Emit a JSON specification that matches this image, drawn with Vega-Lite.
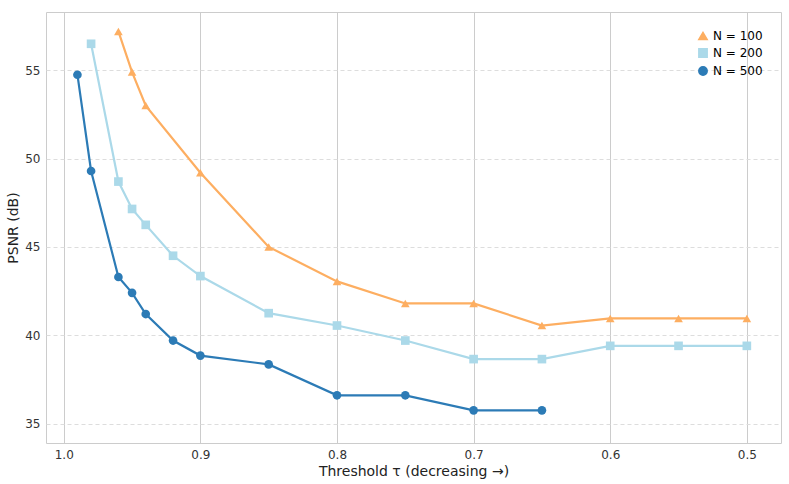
{
"$schema":"https://vega.github.io/schema/vega-lite/v6.json",
"width":789,"height":484,
"autosize":{"type":"fit","contains":"padding"},
"padding":{"left":6,"top":12,"right":8,"bottom":6},
"config":{"font":"DejaVu Sans","view":{"stroke":"#cccccc"},
"axis":{"labelFontSize":12,"titleFontSize":14,"titleFontWeight":"normal","labelColor":"#333","titleColor":"#222","domain":false,"ticks":false,"gridColor":"#cccccc","labelPadding":6},
"axisY":{"gridDash":[4,3],"gridColor":"#dddddd"}},
"data":{"values":[
{"s":"N = 100","x":0.96,"y":57.2},{"s":"N = 100","x":0.95,"y":54.9},{"s":"N = 100","x":0.94,"y":53.0},{"s":"N = 100","x":0.9,"y":49.2},{"s":"N = 100","x":0.85,"y":45.0},{"s":"N = 100","x":0.8,"y":43.05},{"s":"N = 100","x":0.75,"y":41.8},{"s":"N = 100","x":0.7,"y":41.8},{"s":"N = 100","x":0.65,"y":40.55},{"s":"N = 100","x":0.6,"y":40.95},{"s":"N = 100","x":0.55,"y":40.95},{"s":"N = 100","x":0.5,"y":40.95},
{"s":"N = 200","x":0.98,"y":56.5},{"s":"N = 200","x":0.96,"y":48.7},{"s":"N = 200","x":0.95,"y":47.15},{"s":"N = 200","x":0.94,"y":46.25},{"s":"N = 200","x":0.92,"y":44.5},{"s":"N = 200","x":0.9,"y":43.35},{"s":"N = 200","x":0.85,"y":41.25},{"s":"N = 200","x":0.8,"y":40.55},{"s":"N = 200","x":0.75,"y":39.7},{"s":"N = 200","x":0.7,"y":38.65},{"s":"N = 200","x":0.65,"y":38.65},{"s":"N = 200","x":0.6,"y":39.4},{"s":"N = 200","x":0.55,"y":39.4},{"s":"N = 200","x":0.5,"y":39.4},
{"s":"N = 500","x":0.99,"y":54.75},{"s":"N = 500","x":0.98,"y":49.3},{"s":"N = 500","x":0.96,"y":43.3},{"s":"N = 500","x":0.95,"y":42.4},{"s":"N = 500","x":0.94,"y":41.2},{"s":"N = 500","x":0.92,"y":39.7},{"s":"N = 500","x":0.9,"y":38.85},{"s":"N = 500","x":0.85,"y":38.35},{"s":"N = 500","x":0.8,"y":36.6},{"s":"N = 500","x":0.75,"y":36.6},{"s":"N = 500","x":0.7,"y":35.75},{"s":"N = 500","x":0.65,"y":35.75}
]},
"mark":{"type":"line","strokeWidth":2.2,"point":{"size":75,"filled":true,"opacity":1}},
"encoding":{
"x":{"field":"x","type":"quantitative","title":"Threshold τ (decreasing →)","scale":{"domain":[1.013,0.475],"nice":false,"zero":false},"axis":{"values":[1.0,0.9,0.8,0.7,0.6,0.5],"format":".1f"}},
"y":{"field":"y","type":"quantitative","title":"PSNR (dB)","scale":{"domain":[33.9,58.3],"nice":false,"zero":false},"axis":{"values":[35,40,45,50,55]}},
"color":{"field":"s","type":"nominal","title":null,"scale":{"domain":["N = 100","N = 200","N = 500"],"range":["#fdae61","#abd9e9","#2c7bb6"]},"legend":{"orient":"top-right","labelFontSize":12,"symbolSize":70}},
"shape":{"field":"s","type":"nominal","title":null,"scale":{"domain":["N = 100","N = 200","N = 500"],"range":["triangle-up","square","circle"]}}
}
}
